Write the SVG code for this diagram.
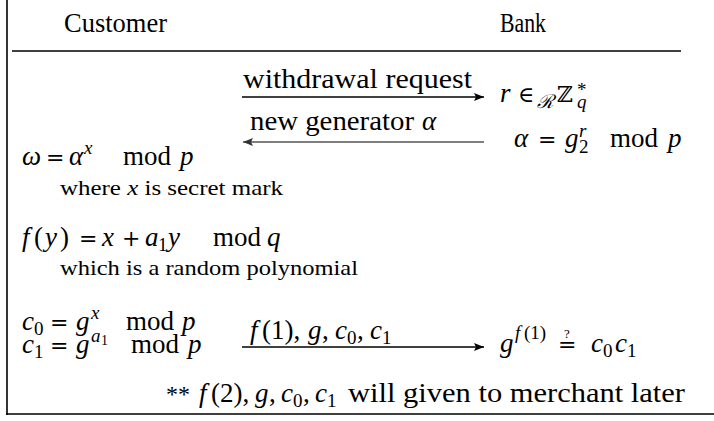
<svg xmlns="http://www.w3.org/2000/svg" width="714" height="421" viewBox="0 0 714 421">
  <style>
    text { font-family: "Liberation Serif", "DejaVu Serif", serif; fill: #000; white-space: pre; }
    .m  { font-size: 27px; }
    .s  { font-size: 22px; }
    .sc { font-size: 19px; }
    .ss { font-size: 14px; }
    .q  { font-size: 13px; }
    .i  { font-style: italic; }
    .op { font-family: "DejaVu Serif", "Liberation Serif", serif; font-size: 22px; }
    .frame { stroke: #000; stroke-width: 1.6; fill: none; }
    .msg { stroke: #000; stroke-width: 1.3; fill: none; }
    .msg.back { stroke: #555; stroke-width: 1.6; }
  </style>
  <defs>
    <marker id="ah" viewBox="0 0 10 8" refX="10" refY="4" markerWidth="10" markerHeight="8" markerUnits="userSpaceOnUse" orient="auto">
      <path d="M0,0 L10,4 L0,8 L2,4 Z" fill="#000"/>
    </marker>
    <marker id="ahg" viewBox="0 0 10 8" refX="10" refY="4" markerWidth="10" markerHeight="8" markerUnits="userSpaceOnUse" orient="auto">
      <path d="M0,0 L10,4 L0,8 L2,4 Z" fill="#333"/>
    </marker>
  </defs>

  <!-- table frame: left edge, bottom edge, header rule -->
  <g id="frame">
    <line class="frame" x1="7" y1="0" x2="7" y2="415"/>
    <line class="frame" x1="6.2" y1="414" x2="714" y2="414"/>
    <line class="frame" x1="12" y1="51" x2="681" y2="51"/>
  </g>

  <!-- column headers -->
  <g id="header">
    <text class="m" x="64" y="32" textLength="103" lengthAdjust="spacingAndGlyphs">Customer</text>
    <text class="m" x="500" y="32" textLength="46" lengthAdjust="spacingAndGlyphs">Bank</text>
  </g>

  <!-- customer side -->
  <g id="customer-omega">
    <text class="m"><tspan class="i" x="22" y="165">ω</tspan><tspan class="op" x="46" y="165">=</tspan><tspan class="i" x="69" y="165">α</tspan><tspan class="sc i" x="84" y="154">x</tspan><tspan x="123" y="165">mod</tspan><tspan class="i" x="180" y="165">p</tspan></text>
    <text class="s" x="60" y="195" textLength="223" lengthAdjust="spacingAndGlyphs">where <tspan class="i">x</tspan> is secret mark</text>
  </g>

  <g id="customer-poly">
    <text class="m"><tspan class="i" x="22" y="246">f</tspan><tspan x="34" y="246">(</tspan><tspan class="i" x="45" y="246">y</tspan><tspan x="60" y="246">)</tspan><tspan class="op" x="79" y="246">=</tspan><tspan class="i" x="102" y="246">x</tspan><tspan class="op" x="122" y="246">+</tspan><tspan class="i" x="145" y="246">a</tspan><tspan class="sc" x="158" y="251">1</tspan><tspan class="i" x="168" y="246">y</tspan><tspan x="213" y="246">mod</tspan><tspan class="i" x="267" y="246">q</tspan></text>
    <text class="s" x="60" y="275" textLength="298" lengthAdjust="spacingAndGlyphs">which is a random polynomial</text>
  </g>

  <g id="customer-commit">
    <text class="m"><tspan class="i" x="22" y="330">c</tspan><tspan class="sc" x="34" y="335">0</tspan><tspan class="op" x="50" y="330">=</tspan><tspan class="i" x="76" y="330">g</tspan><tspan class="sc i" x="91" y="319">x</tspan><tspan x="126" y="330">mod</tspan><tspan class="i" x="182" y="330">p</tspan></text>
    <text class="m"><tspan class="i" x="22" y="353">c</tspan><tspan class="sc" x="34" y="358">1</tspan><tspan class="op" x="50" y="353">=</tspan><tspan class="i" x="76" y="353">g</tspan><tspan class="sc i" x="91" y="342">a</tspan><tspan class="ss" x="101" y="345">1</tspan><tspan x="131" y="353">mod</tspan><tspan class="i" x="188" y="353">p</tspan></text>
  </g>

  <!-- bank side -->
  <g id="bank-random">
    <text class="m"><tspan class="i" x="500" y="102">r</tspan><tspan class="op" x="518" y="102">∈</tspan><tspan class="sc i" x="537" y="108">ℛ</tspan><tspan class="op" x="557" y="102">ℤ</tspan><tspan class="sc i" x="577" y="108">q</tspan><tspan class="sc" x="577" y="96">*</tspan></text>
  </g>

  <g id="bank-generator">
    <text class="m"><tspan class="i" x="514" y="147">α</tspan><tspan class="op" x="538" y="147">=</tspan><tspan class="i" x="565" y="147">g</tspan><tspan class="sc i" x="579" y="137">r</tspan><tspan class="sc" x="579" y="153">2</tspan><tspan x="610" y="147">mod</tspan><tspan class="i" x="668" y="147">p</tspan></text>
  </g>

  <g id="bank-verify">
    <text class="m"><tspan class="i" x="500" y="352">g</tspan><tspan class="sc i" x="515" y="339">f</tspan><tspan class="sc" x="524" y="339">(1)</tspan><tspan class="op" x="558" y="352">=</tspan><tspan class="q" x="564" y="338">?</tspan><tspan class="i" x="591" y="352">c</tspan><tspan class="sc" x="603" y="357">0</tspan><tspan class="i" x="615" y="352">c</tspan><tspan class="sc" x="627" y="357">1</tspan></text>
  </g>

  <!-- footnote -->
  <g id="note">
    <text class="m"><tspan x="166" y="402" style="font-size:24px">**</tspan><tspan class="i" x="199" y="402">f</tspan><tspan x="211" y="402">(2),</tspan><tspan class="i" x="255" y="402">g</tspan><tspan x="269" y="402">,</tspan><tspan class="i" x="281" y="402">c</tspan><tspan class="sc" x="293" y="407">0</tspan><tspan x="303" y="402">,</tspan><tspan class="i" x="315" y="402">c</tspan><tspan class="sc" x="327" y="407">1</tspan></text>
    <text class="m" x="348" y="402" textLength="337" lengthAdjust="spacingAndGlyphs">will given to merchant later</text>
  </g>

  <!-- messages between the parties -->
  <g id="connectors">
    <line class="msg" x1="242" y1="97" x2="484" y2="97" marker-end="url(#ah)"/>
    <line class="msg back" x1="484" y1="142" x2="243" y2="142" marker-end="url(#ahg)"/>
    <line class="msg" x1="242" y1="347" x2="484" y2="347" marker-end="url(#ah)"/>
  </g>

  <g id="connector-labels">
    <text class="m" x="243" y="88" textLength="229" lengthAdjust="spacingAndGlyphs">withdrawal request</text>
    <text class="m"><tspan x="250" y="130" textLength="164" lengthAdjust="spacingAndGlyphs">new generator</tspan><tspan class="i" x="422" y="130">α</tspan></text>
    <text class="m"><tspan class="i" x="250" y="339">f</tspan><tspan x="262" y="339">(1),</tspan><tspan class="i" x="308" y="339">g</tspan><tspan x="322" y="339">,</tspan><tspan class="i" x="335" y="339">c</tspan><tspan class="sc" x="347" y="344">0</tspan><tspan x="357" y="339">,</tspan><tspan class="i" x="370" y="339">c</tspan><tspan class="sc" x="382" y="344">1</tspan></text>
  </g>
</svg>
